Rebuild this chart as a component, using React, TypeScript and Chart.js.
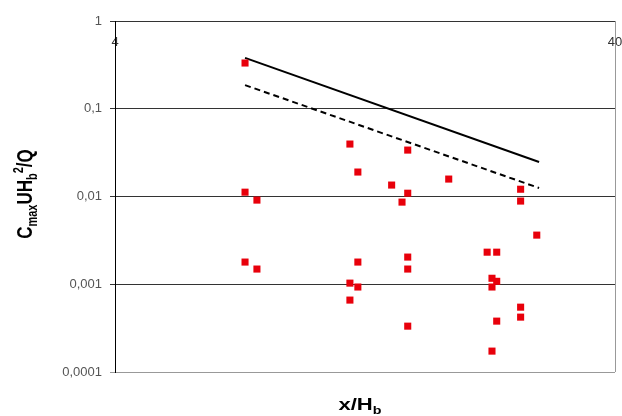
import Chart from "chart.js/auto";
import { useEffect, useRef } from "react";

// x = x/Hb, y = Cmax U Hb^2 / Q
const pointX = [
  7.28, 7.28, 7.69, 7.28, 7.69, 11.8, 15.4, 12.24, 14.3, 18.6, 15.4, 15.0,
  25.9, 25.9, 27.9, 22.2, 23.2, 15.4, 15.4, 12.24, 11.8, 12.24, 11.8, 22.7,
  23.2, 22.7, 25.9, 25.9, 15.4, 23.2, 22.7,
];
const pointY = [
  0.332, 0.0112, 0.0091, 0.00179, 0.00149, 0.0396, 0.0338, 0.019, 0.0135,
  0.0158, 0.0109, 0.00863, 0.0121, 0.00887, 0.00363, 0.00232, 0.00232,
  0.00204, 0.00149, 0.00179, 0.00103, 0.00093, 0.00066, 0.00117, 0.00108,
  0.00093, 0.000548, 0.000422, 0.000333, 0.00038, 0.000173,
];

const lineX = [7.28, 28.2];
const solidY = [0.38, 0.0247];
const dashedY = [0.186, 0.0125];

const xTicks = [4, 40];
const yTicks = [0.0001, 0.001, 0.01, 0.1, 1];

type Piece = { t: string; size: number; dy: number };

const yTitle: Piece[] = [
  { t: "C", size: 17, dy: 0 },
  { t: "max", size: 11, dy: 4 },
  { t: "UH", size: 17, dy: 0 },
  { t: "b", size: 11, dy: 4 },
  { t: "2", size: 11, dy: -7 },
  { t: "/Q", size: 17, dy: 0 },
];
const xTitle: Piece[] = [
  { t: "x/H", size: 17, dy: 0 },
  { t: "b", size: 11, dy: 4 },
];

// the picture is a bit wider than tall, so the titles get stretched sideways
function drawPieces(
  ctx: CanvasRenderingContext2D,
  pieces: Piece[],
  cx: number,
  cy: number,
  rotate: boolean
) {
  ctx.save();
  ctx.translate(cx, cy);
  ctx.scale(1.3, 1);
  if (rotate) ctx.rotate(-Math.PI / 2);
  ctx.fillStyle = "#000";
  ctx.textBaseline = "alphabetic";
  ctx.textAlign = "left";
  let total = 0;
  pieces.forEach((p) => {
    ctx.font = `bold ${p.size}px "Liberation Sans", Arial, sans-serif`;
    total += ctx.measureText(p.t).width;
  });
  let x = -total / 2;
  pieces.forEach((p) => {
    ctx.font = `bold ${p.size}px "Liberation Sans", Arial, sans-serif`;
    ctx.fillText(p.t, x, 6 + p.dy);
    x += ctx.measureText(p.t).width;
  });
  ctx.restore();
}

const titlesPlugin = {
  id: "titles",
  afterDraw(chart: Chart) {
    const ctx = chart.ctx;
    drawPieces(ctx, yTitle, 24, 194, true);
    drawPieces(ctx, xTitle, 360, 404, false);
  },
};

export default function App() {
  const canvasRef = useRef<HTMLCanvasElement | null>(null);

  useEffect(() => {
    if (!canvasRef.current) {
      return;
    }

    const chart = new Chart(canvasRef.current, {
      type: "scatter",
      data: {
        datasets: [
          {
            label: "measured",
            data: pointX.map((x, i) => ({ x, y: pointY[i] })),
            pointStyle: "rect",
            pointRadius: 5,
            borderWidth: 0,
            backgroundColor: "#e8000b",
          },
          {
            label: "upper",
            data: lineX.map((x, i) => ({ x, y: solidY[i] })),
            showLine: true,
            borderColor: "#000",
            borderWidth: 2,
            pointRadius: 0,
          },
          {
            label: "lower",
            data: lineX.map((x, i) => ({ x, y: dashedY[i] })),
            showLine: true,
            borderColor: "#000",
            borderWidth: 2,
            borderDash: [6, 4],
            pointRadius: 0,
          },
        ],
      },
      options: {
        responsive: true,
        maintainAspectRatio: false,
        animation: false,
        layout: { padding: { left: 0, top: 0, right: 7, bottom: 44 } },
        plugins: {
          legend: { display: false },
          tooltip: { enabled: false },
        },
        scales: {
          x: {
            type: "logarithmic",
            position: "top",
            min: 4,
            max: 40,
            afterBuildTicks: (scale: any) => {
              scale.ticks = xTicks.map((v) => ({ value: v }));
            },
            afterFit: (scale: any) => {
              scale.height = 21;
              scale.paddingLeft = 0;
              scale.paddingRight = 0;
            },
            border: { display: false },
            grid: {
              drawTicks: false,
              color: (c: any) => (c.tick && c.tick.value === 40 ? "#999" : "#000"),
            },
            ticks: {
              mirror: true,
              padding: 14,
              color: "#333",
              font: { family: '"Liberation Sans", Arial, sans-serif', size: 13 },
              callback: (v: any) => String(v),
            },
          },
          y: {
            type: "logarithmic",
            min: 0.0001,
            max: 1,
            afterBuildTicks: (scale: any) => {
              scale.ticks = yTicks.map((v) => ({ value: v }));
            },
            afterFit: (scale: any) => {
              scale.width = 115;
              scale.paddingTop = 0;
              scale.paddingBottom = 0;
            },
            border: { display: true, color: "#000", width: 1 },
            grid: {
              tickLength: 5,
              color: (c: any) =>
                c.tick && c.tick.value === 0.0001 ? "#999" : "#333",
            },
            ticks: {
              padding: 8,
              color: "#555",
              font: { family: '"Liberation Sans", Arial, sans-serif', size: 13 },
              callback: (v: any) => String(v).replace(".", ","),
            },
          },
        },
      },
      plugins: [titlesPlugin],
    });

    return () => {
      chart.destroy();
    };
  }, []);

  return (
    <div
      style={{
        position: "fixed",
        left: 0,
        top: 0,
        width: "622px",
        height: "416px",
        background: "#fff",
      }}
    >
      <canvas ref={canvasRef}></canvas>
    </div>
  );
}
